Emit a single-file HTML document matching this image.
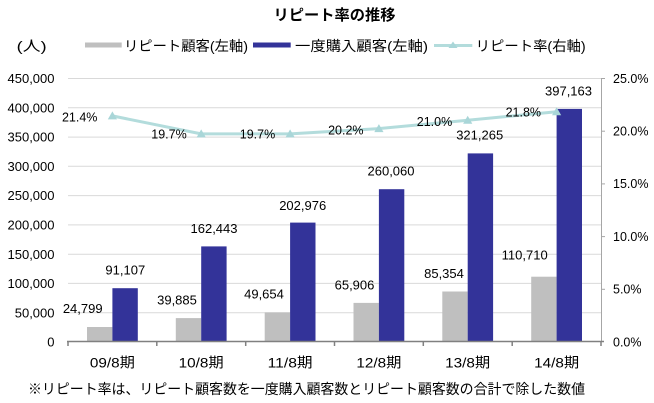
<!DOCTYPE html>
<html><head><meta charset="utf-8"><style>
html,body{margin:0;padding:0;background:#fff;}
svg{display:block;}
text{font-family:"Liberation Sans","Noto Sans CJK JP",sans-serif;fill:#000;}
</style></head><body>
<svg width="654" height="403" viewBox="0 0 654 403" xmlns="http://www.w3.org/2000/svg">
<rect width="654" height="403" fill="#fff"/>
<!-- title -->
<text x="334.5" y="20" font-size="15" font-weight="bold" text-anchor="middle" textLength="122" lengthAdjust="spacingAndGlyphs">リピート率の推移</text>
<!-- legend -->
<text x="16.7" y="51" font-size="14" textLength="30" lengthAdjust="spacingAndGlyphs">(人)</text>
<rect x="85" y="42.5" width="36.7" height="5" fill="#bfbfbf"/>
<text x="124" y="51" font-size="14" textLength="124" lengthAdjust="spacingAndGlyphs">リピート顧客(左軸)</text>
<rect x="253" y="42.5" width="37.7" height="5" fill="#333399"/>
<text x="295" y="51" font-size="14" textLength="133" lengthAdjust="spacingAndGlyphs">一度購入顧客(左軸)</text>
<line x1="434" y1="45.5" x2="472.3" y2="45.5" stroke="#b3dcdc" stroke-width="3"/>
<polygon points="453,41.5 457.5,48 448.5,48" fill="#a9d6d8"/>
<text x="475.7" y="51" font-size="14" textLength="110" lengthAdjust="spacingAndGlyphs">リピート率(右軸)</text>

<!-- gridlines -->
<g stroke="#d9d9d9" stroke-width="1">
<line x1="68" y1="78.5" x2="601" y2="78.5"/>
<line x1="68" y1="107.8" x2="601" y2="107.8"/>
<line x1="68" y1="137.1" x2="601" y2="137.1"/>
<line x1="68" y1="166.3" x2="601" y2="166.3"/>
<line x1="68" y1="195.6" x2="601" y2="195.6"/>
<line x1="68" y1="224.9" x2="601" y2="224.9"/>
<line x1="68" y1="254.2" x2="601" y2="254.2"/>
<line x1="68" y1="283.4" x2="601" y2="283.4"/>
<line x1="68" y1="312.7" x2="601" y2="312.7"/>
</g>

<!-- right axis -->
<g stroke="#a6a6a6" stroke-width="1">
<line x1="601.5" y1="78" x2="601.5" y2="341.5"/>
<line x1="601.5" y1="78.5" x2="605" y2="78.5"/>
<line x1="601.5" y1="131.2" x2="605" y2="131.2"/>
<line x1="601.5" y1="183.9" x2="605" y2="183.9"/>
<line x1="601.5" y1="236.6" x2="605" y2="236.6"/>
<line x1="601.5" y1="289.3" x2="605" y2="289.3"/>
</g>

<!-- bars -->
<g fill="#bfbfbf">
<rect x="87" y="327" width="25.4" height="14.5"/>
<rect x="175.8" y="318.1" width="25.4" height="23.4"/>
<rect x="264.7" y="312.4" width="25.4" height="29.1"/>
<rect x="353.5" y="302.9" width="25.4" height="38.6"/>
<rect x="442.3" y="291.5" width="25.4" height="50"/>
<rect x="531.2" y="276.7" width="25.4" height="64.8"/>
</g>
<g fill="#333399">
<rect x="112.4" y="288.2" width="25.4" height="53.3"/>
<rect x="201.2" y="246.4" width="25.4" height="95.1"/>
<rect x="290.1" y="222.6" width="25.4" height="118.9"/>
<rect x="378.9" y="189.2" width="25.4" height="152.3"/>
<rect x="467.7" y="153.4" width="25.4" height="188.1"/>
<rect x="556.6" y="108.9" width="25.4" height="232.6"/>
</g>

<!-- x axis -->
<g stroke="#808080" stroke-width="1.5">
<line x1="67" y1="341.5" x2="604" y2="341.5"/>
<line x1="68" y1="341.5" x2="68" y2="346"/>
<line x1="156.8" y1="341.5" x2="156.8" y2="346"/>
<line x1="245.7" y1="341.5" x2="245.7" y2="346"/>
<line x1="334.5" y1="341.5" x2="334.5" y2="346"/>
<line x1="423.3" y1="341.5" x2="423.3" y2="346"/>
<line x1="512.2" y1="341.5" x2="512.2" y2="346"/>
<line x1="601" y1="341.5" x2="601" y2="346"/>
</g>

<!-- line series -->
<polyline points="112.4,115.9 201.2,133.9 290.1,133.9 378.9,128.6 467.7,120.2 556.6,111.7" fill="none" stroke="#b3dcdc" stroke-width="3" stroke-linejoin="round"/>
<g fill="#a9d6d8">
<polygon points="112.4,111.4 117,119.4 107.8,119.4"/>
<polygon points="201.2,129.4 205.8,137.4 196.6,137.4"/>
<polygon points="290.1,129.4 294.7,137.4 285.5,137.4"/>
<polygon points="378.9,124.1 383.5,132.1 374.3,132.1"/>
<polygon points="467.7,115.7 472.3,123.7 463.1,123.7"/>
<polygon points="556.6,107.2 561.2,115.2 552,115.2"/>
</g>

<!-- left axis labels -->
<g font-size="13" text-anchor="end">
<text x="54.5" y="83">450,000</text>
<text x="54.5" y="112.4">400,000</text>
<text x="54.5" y="141.7">350,000</text>
<text x="54.5" y="170.9">300,000</text>
<text x="54.5" y="200.2">250,000</text>
<text x="54.5" y="229.5">200,000</text>
<text x="54.5" y="258.8">150,000</text>
<text x="54.5" y="288">100,000</text>
<text x="54.5" y="317.3">50,000</text>
<text x="54.5" y="346.3">0</text>
</g>
<!-- right axis labels -->
<g font-size="12.5">
<text x="613" y="82.8">25.0%</text>
<text x="613" y="135.5">20.0%</text>
<text x="613" y="188.2">15.0%</text>
<text x="613" y="240.9">10.0%</text>
<text x="613" y="293.6">5.0%</text>
<text x="613" y="346.3">0.0%</text>
</g>

<!-- data labels -->
<g font-size="13" text-anchor="middle">
<text x="82.7" y="312.9">24,799</text>
<text x="177" y="304.6">39,885</text>
<text x="264" y="298.6">49,654</text>
<text x="354.5" y="289.6">65,906</text>
<text x="444" y="277.9">85,354</text>
<text x="524.7" y="259.6">110,710</text>
<text x="125.3" y="274.6">91,107</text>
<text x="214" y="232.9">162,443</text>
<text x="302.7" y="209.9">202,976</text>
<text x="391" y="175.3">260,060</text>
<text x="479.7" y="139.6">321,265</text>
<text x="568.5" y="95.3">397,163</text>
</g>
<g font-size="12.5" text-anchor="middle">
<text x="79.7" y="121.7">21.4%</text>
<text x="169" y="138.4">19.7%</text>
<text x="257.5" y="138.7">19.7%</text>
<text x="345.8" y="134.4">20.2%</text>
<text x="434.5" y="126.1">21.0%</text>
<text x="523.3" y="116.7">21.8%</text>
</g>

<!-- category labels -->
<g font-size="14" text-anchor="middle">
<text x="112.4" y="367.5" textLength="45" lengthAdjust="spacingAndGlyphs">09/8期</text>
<text x="201.2" y="367.5" textLength="45" lengthAdjust="spacingAndGlyphs">10/8期</text>
<text x="290.1" y="367.5" textLength="45" lengthAdjust="spacingAndGlyphs">11/8期</text>
<text x="378.9" y="367.5" textLength="45" lengthAdjust="spacingAndGlyphs">12/8期</text>
<text x="467.7" y="367.5" textLength="45" lengthAdjust="spacingAndGlyphs">13/8期</text>
<text x="556.6" y="367.5" textLength="45" lengthAdjust="spacingAndGlyphs">14/8期</text>
</g>

<!-- footnote -->
<text x="28" y="394" font-size="14.3" textLength="557" lengthAdjust="spacingAndGlyphs">※リピート率は、リピート顧客数を一度購入顧客数とリピート顧客数の合計で除した数値</text>
</svg>
</body></html>
